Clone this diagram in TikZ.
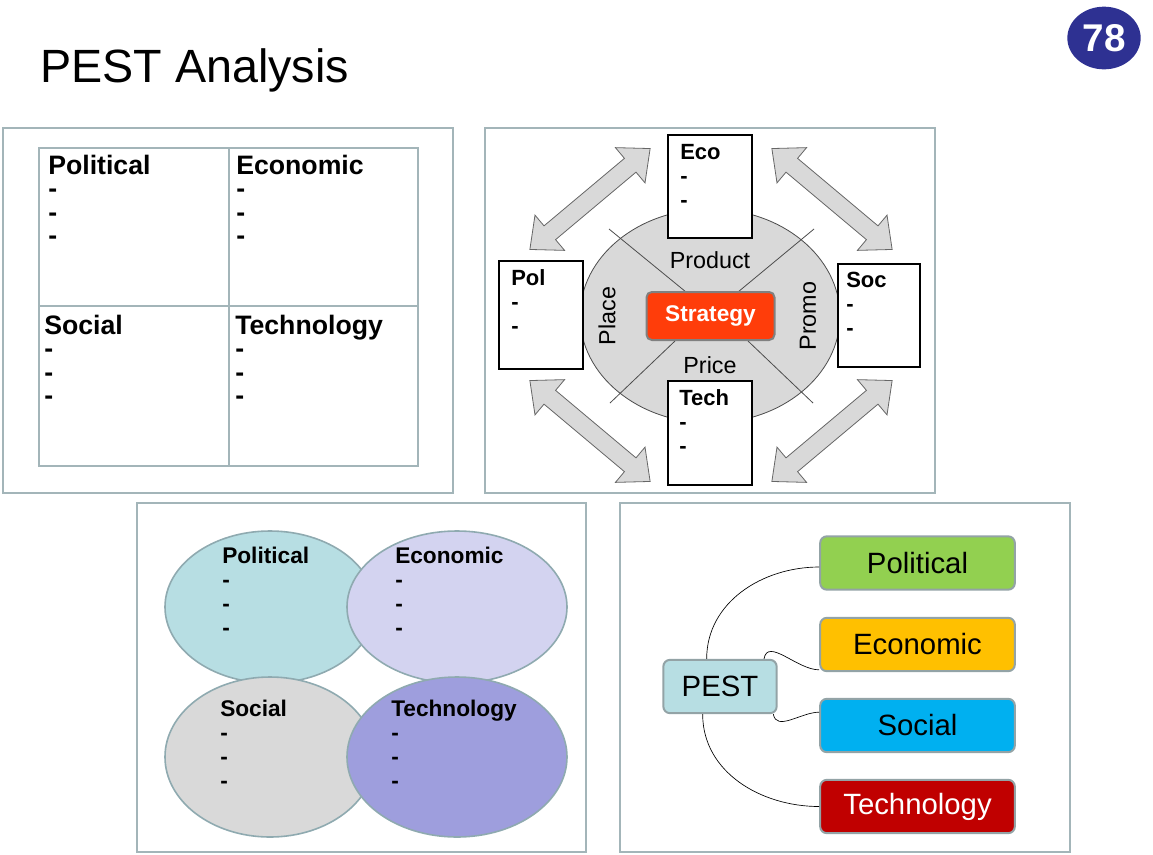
\documentclass[tikz,border=0pt]{standalone}
\usepackage{fontspec}
\setmainfont{Liberation Sans}
\usetikzlibrary{shapes.geometric}
\definecolor{frame}{HTML}{A3B5B9}
\definecolor{badge}{HTML}{2E3192}
\definecolor{ltteal}{HTML}{B7DEE3}
\definecolor{ltlav}{HTML}{D3D3F0}
\definecolor{ltgray}{HTML}{D9D9D9}
\definecolor{midlav}{HTML}{9E9EDD}
\definecolor{ellb}{HTML}{8FAAB0}
\definecolor{strat}{HTML}{FF3D0A}
\definecolor{pgreen}{HTML}{92D050}
\definecolor{porange}{HTML}{FFC000}
\definecolor{pblue}{HTML}{00B0F0}
\definecolor{pred}{HTML}{C00000}
\tikzset{
 panel/.style={draw=frame,line width=1.5pt},
 gridl/.style={draw=frame,line width=1pt},
 t1/.style={anchor=north west,inner sep=0pt,align=left,font=\fontsize{20}{17.5}\selectfont\bfseries},
 t3/.style={anchor=north west,inner sep=0pt,align=left,font=\fontsize{17}{18}\selectfont\bfseries},
 t2/.style={anchor=north west,inner sep=0pt,align=left,font=\fontsize{16.5}{18}\selectfont\bfseries},
 cbox/.style={draw=black,line width=1pt,fill=white},
 darr/.style={draw=gray!80!black,fill=ltgray,line width=0.6pt},
 lbl/.style={font=\fontsize{17.5}{20}\selectfont,inner sep=0pt},
 ell/.style={draw=ellb,line width=1.2pt},
 tag/.style={draw=frame!90!black,line width=1.5pt,rounded corners=5pt,minimum width=146pt,minimum height=40pt,font=\fontsize{22}{24}\selectfont},
 conn/.style={draw=black,line width=0.5pt},
}
\newcommand\dblarrow[3]{\begin{scope}[shift={(#1,#2)},rotate=#3]
\draw[darr] (-78.5,0) -- (-52.5,-23) -- (-52.5,-9) -- (52.5,-9) -- (52.5,-23) -- (78.5,0) -- (52.5,23) -- (52.5,9) -- (-52.5,9) -- (-52.5,23) -- cycle;
\end{scope}}
\begin{document}
\begin{tikzpicture}[x=0.75pt,y=-0.75pt]
\useasboundingbox (0,0) rectangle (1153,854);
% title and badge
\node[anchor=west,inner sep=0pt,font=\fontsize{35}{40}\selectfont] (title) at (40,70) {PEST Analysis};
\node[ellipse,fill=badge,minimum width=55pt,minimum height=47pt,inner sep=0pt,text=white,font=\fontsize{29}{30}\selectfont\bfseries] (badge) at (1104,38) {78};
% panel 1
\draw[panel] (3,128) rectangle (453,493);
\draw[gridl] (39,148) rectangle (418,466);
\draw[gridl] (229,148) -- (229,466);
\draw[gridl] (39,306) -- (418,306);
\node[t1] (p1) at (48,155) {Political\\-\\-\\-};
\node[t1] (e1) at (236,155) {Economic\\-\\-\\-};
\node[t1] (s1) at (44,315) {Social\\-\\-\\-};
\node[t1] (tt1) at (235,315) {Technology\\-\\-\\-};
% panel 2
\draw[panel] (485,128) rectangle (935,493);
\draw[draw=gray!60!black,fill=ltgray,line width=0.6pt] (710,316) ellipse [x radius=130,y radius=107];
\draw[gray!60!black,line width=0.6pt] (609,229) -- (686,292) (814,229) -- (738,292) (610,403) -- (675,341) (813,403) -- (748,341);
\dblarrow{590}{199}{40}
\dblarrow{832}{199}{-40}
\dblarrow{590}{431}{-40}
\dblarrow{832}{431}{40}
\draw[cbox] (668,135) rectangle (752,238);
\draw[cbox] (499,261) rectangle (583,369);
\draw[cbox] (838,264) rectangle (920,367);
\draw[cbox] (668,381) rectangle (752,485);
\node[t2] (eco) at (680,144) {Eco\\-\\-};
\node[t2] (pol) at (511,269) {Pol\\-\\-};
\node[t2] (soc) at (846,272) {Soc\\-\\-};
\node[t2] (tech) at (679,389) {Tech\\-\\-};
\node[lbl] (prod) at (710,260) {Product};
\node[lbl] (price) at (710,365) {Price};
\node[lbl,rotate=90] (place) at (607,316) {Place};
\node[lbl,rotate=90] (promo) at (808,316) {Promo};
\node[draw=gray,line width=1.5pt,fill=strat,rounded corners=4pt,minimum width=96pt,minimum height=36pt,text=white,font=\fontsize{17}{20}\selectfont\bfseries] (strategy) at (710.5,316) {Strategy};
% panel 3
\draw[panel] (137,503) rectangle (586,852);
\draw[ell,fill=ltteal] (270,607) ellipse [x radius=105,y radius=76];
\draw[ell,fill=ltlav] (457,607) ellipse [x radius=110,y radius=76];
\draw[ell,fill=ltgray] (270,757) ellipse [x radius=105,y radius=80];
\draw[ell,fill=midlav] (457,757) ellipse [x radius=110,y radius=80];
\node[t3] (p3) at (222,547) {Political\\-\\-\\-};
\node[t3] (e3) at (395,547) {Economic\\-\\-\\-};
\node[t3] (s3) at (220,700) {Social\\-\\-\\-};
\node[t3] (tt3) at (391,700) {Technology\\-\\-\\-};
% panel 4
\draw[panel] (620,503) rectangle (1070,852);
\node[tag,fill=ltteal,minimum width=85pt] (pest) at (720,686.5) {PEST};
\node[tag,fill=pgreen] (pp) at (917.5,563) {Political};
\node[tag,fill=porange] (pe) at (917.5,644.5) {Economic};
\node[tag,fill=pblue] (ps) at (917.5,725.5) {Social};
\node[tag,fill=pred,text=white] (pt) at (917.5,806.5) {Technology};
\draw[conn] ([xshift=-10]pest.north) to[out=90,in=180] ([yshift=-3]pp.west);
\draw[conn] ([xshift=33]pest.north) to[out=80,in=180] ([yshift=-19]pe.west);
\draw[conn] ([xshift=40]pest.south) to[out=-80,in=180] ([yshift=10]ps.west);
\draw[conn] ([xshift=-13]pest.south) to[out=-90,in=180] (pt.west);
\end{tikzpicture}
\end{document}
